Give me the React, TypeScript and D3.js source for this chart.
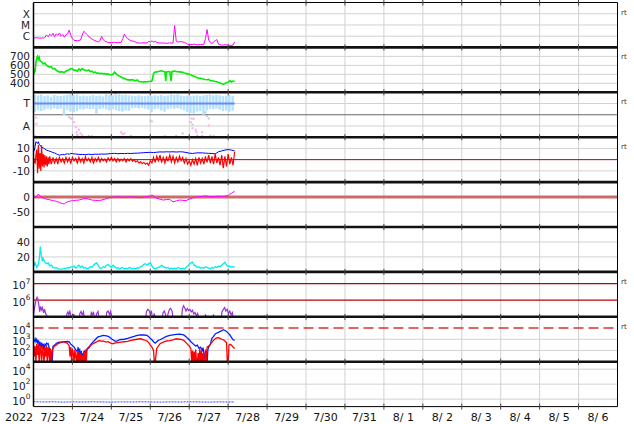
import React from "react";
import * as d3 from "d3";

// hours since 2022-07-23 00:00 UT
const T0 = Date.UTC(2022, 6, 23);
const T1 = Date.UTC(2022, 7, 7);
const HOUR = 3600 * 1000;

const dayLabels = ["7/23", "7/24", "7/25", "7/26", "7/27", "7/28", "7/29", "7/30", "7/31", "8/ 1", "8/ 2", "8/ 3", "8/ 4", "8/ 5", "8/ 6"];

// X-ray flux (W/m2)
const xray: [number, number][] = [[0,6.8e-7],[2,7.2e-7],[4,6.6e-7],[6,6.9e-7],[7,7.5e-7],[8,1.3e-6],[9,9e-7],[10,1.5e-6],[11,1.1e-6],[12,1.8e-6],[13,9e-7],[14,1.6e-6],[15,1.2e-6],[16,1.9e-6],[17,1.0e-6],[18,1.4e-6],[19,8e-7],[20,1.3e-6],[21,1.6e-6],[22,3.5e-6],[23,1.2e-6],[24,6e-7],[25,4.2e-7],[27,4.0e-7],[29,4.5e-7],[30,1.2e-6],[31,2.7e-6],[32,2.0e-6],[33,1.4e-6],[35,7e-7],[37,4.6e-7],[40,3.0e-7],[41,4e-7],[42,9.5e-7],[43,5e-7],[44,3.5e-7],[46,2.8e-7],[48,2.6e-7],[50,2.9e-7],[52,2.6e-7],[54,2.8e-7],[55,6e-7],[56,1.5e-6],[57,9e-7],[58,6e-7],[60,4e-7],[62,3.4e-7],[64,2.5e-7],[66,2.4e-7],[68,2.6e-7],[70,2.5e-7],[71,3.5e-7],[72,3.0e-7],[73,3.8e-7],[74,3.1e-7],[75,3.6e-7],[76,2.8e-7],[78,2.4e-7],[80,2.5e-7],[82,2.3e-7],[84,2.5e-7],[86,2.4e-7],[87,8.9e-6],[88,3.5e-7],[89,3.0e-7],[91,3.3e-7],[93,2.8e-7],[95,1.9e-7],[97,1.8e-7],[99,1.9e-7],[101,1.7e-7],[103,1.8e-7],[105,1.9e-7],[106,6e-7],[107,3.9e-6],[108,4.5e-7],[109,2.8e-7],[110,2.2e-7],[112,4e-7],[113,5e-7],[114,2.0e-7],[116,1.6e-7],[118,1.7e-7],[120,1.6e-7],[122,1.5e-7],[123,1.6e-7],[124,3.2e-7]];

// solar wind speed (km/s)
const speed: [number, number][] = [[0,560],[0.5,520],[1,540],[1.5,630],[2,680],[2.5,700],[3,670],[3.5,690],[4,650],[5,640],[6,615],[7,625],[8,600],[9,590],[10,580],[11,585],[12,560],[13,565],[14,545],[15,535],[16,525],[17,530],[18,527],[19,522],[20,535],[21,545],[22,552],[23,565],[24,560],[25,545],[26,548],[27,535],[28,560],[29,545],[30,565],[31,550],[32,545],[33,540],[34,548],[35,530],[36,535],[37,520],[38,525],[39,512],[40,515],[41,508],[42,512],[43,505],[44,508],[45,500],[46,505],[47,496],[48,493],[49,500],[50,525],[51,505],[52,488],[53,480],[54,470],[55,458],[56,455],[57,445],[58,438],[59,440],[60,436],[61,442],[62,432],[63,430],[64,438],[65,420],[66,418],[67,415],[68,418],[69,416],[70,418],[71,420],[72,422],[73,425],[74,505],[74.5,520],[75,525],[76,527],[77,532],[78,538],[79,540],[80,532],[81,528],[81.5,425],[82,525],[83,530],[84,528],[84.8,425],[85.3,530],[86,533],[87,536],[88,530],[89,528],[90,527],[91,525],[92,522],[93,515],[94,510],[95,505],[96,500],[97,495],[98,485],[99,480],[100,470],[101,462],[102,458],[103,455],[104,450],[105,446],[106,442],[107,440],[108,445],[109,430],[110,428],[111,425],[112,420],[113,418],[114,410],[115,405],[116,395],[117,390],[118,398],[119,410],[120,412],[121,430],[122,415],[123,425],[124,420]];

// IMF phi angle: [hour, max deg, min deg]
const phiBand: [number, number, number][] = [[0,340,205],[2,335,215],[4,342,210],[6,330,220],[8,336,228],[10,325,222],[12,338,232],[14,332,225],[16,330,230],[18,335,178],[20,340,220],[22,345,205],[24,338,200],[26,342,210],[28,330,225],[30,335,222],[32,328,230],[34,332,226],[36,338,228],[38,330,190],[40,335,225],[42,326,230],[44,345,222],[46,340,215],[48,336,225],[50,342,218],[52,344,210],[54,338,205],[56,340,215],[58,336,212],[60,334,232],[62,330,236],[64,336,230],[66,332,234],[68,330,228],[70,334,222],[72,330,200],[74,336,225],[76,332,230],[78,338,215],[80,330,205],[82,334,225],[84,342,230],[86,338,228],[88,344,232],[90,336,225],[92,330,215],[94,334,200],[96,328,195],[98,332,190],[100,336,205],[102,330,210],[104,334,180],[106,338,215],[108,342,228],[110,336,225],[112,340,230],[114,336,222],[116,330,210],[118,334,215],[120,338,205],[122,330,212]];
const phiGray: [number, number][] = [[1,10],[22,160],[23,150],[24,355],[25,358],[27,12],[34,10],[36,8],[50,352],[51,356],[60,10],[72,134],[81,8],[88,10],[92,30],[97,120],[98,100],[101,12],[104,10],[106,200],[107,170],[108,150],[109,12],[111,8]];
const phiPink: [number, number][] = [[1.7,157],[1.8,108],[24,150],[25,120],[26,80],[26.5,40],[27,20],[28,60],[29,30],[30,15],[54,40],[55,25],[56,30],[73,126],[97.5,150],[98.7,148],[98,72],[100,60],[100.5,40],[104,40],[108,94]];
const sector: [number, number][] = [[0, 270], [124, 270]];

// IMF Bt and Bz (nT)
const bt: [number, number][] = [[0,7],[0.5,8],[1,12],[1.5,16],[2,15],[2.5,14.5],[3,16],[3.5,13.5],[4,13],[5,11],[6,10.5],[7,9.5],[8,8.5],[9,8],[10,7.5],[11,7],[12,6.3],[13,6],[14,5.2],[15,4.5],[16,4],[17,4.3],[18,4.6],[19,4.4],[20,5],[21,5.2],[22,4.8],[23,5.5],[24,5.4],[26,5],[28,4.7],[30,4.6],[32,4.5],[34,4.8],[36,4.6],[38,4.9],[40,4.8],[42,5],[44,4.9],[46,5.2],[48,5.4],[50,5.6],[52,5.3],[54,5.5],[56,5.4],[58,5.6],[60,5.5],[62,5.7],[64,5.8],[66,6],[68,6.2],[70,6.4],[72,6.5],[74,6.3],[76,6.6],[78,6.9],[80,6.8],[82,7],[84,6.9],[86,7],[88,6.8],[90,7],[92,6.9],[94,6.4],[96,5.8],[98,5.5],[100,5.9],[102,6.1],[104,6],[106,5.8],[108,5.6],[110,5.5],[112,5.2],[113,6],[114,7],[116,7.8],[118,8.5],[120,9],[122,8.5],[124,7.8]];
const bz: [number, number][] = [[0,2],[0.5,-2],[1,-3],[1.5,4],[2,9],[2.5,-12],[3,13],[3.5,-8],[4,6],[4.5,-10],[5,12.9],[5.5,-6],[6,5],[6.5,-7],[7,4],[7.5,-5],[8,3],[8.5,-6],[9,2],[9.5,-4],[10,3],[10.5,-1],[11,-4],[12,2],[12.5,-1],[13,-3],[14,1],[15,-4],[15.5,0],[16,2],[17,-2],[18,1],[18.5,-1],[19,-3],[20,2],[21,-2],[22,1.5],[22.5,-1],[23,-3],[24,2],[25,-1],[26,1],[27,-3],[27.5,-1],[28,2],[29,-2],[30,1],[31,-3],[32,2.5],[32.5,0],[33,-1],[34,1],[35,-2],[36,2],[36.5,-1],[37,-3],[38,1],[39,-1.5],[40,2],[41,-2],[42,1],[43,-1],[44,0.5],[45,-2],[46,1.5],[47,-1],[48,2],[49,-1],[50,1],[51,-2],[52,1],[53,-1.5],[54,0.5],[55,-1],[56,1],[57,-2],[58,0.5],[59,-1],[60,1],[61,-1.5],[62,0],[63,-2],[64,-1],[65,-3],[66,-2],[67,-3.5],[68,-2.5],[69,-4],[70,-3],[71,-4.9],[72,-1],[73,-3],[74,2],[74.5,-1],[75,-2],[76,3],[77,-1],[78,4],[78.5,0],[79,-2],[80,2],[81,-3],[82,3],[82.5,-1],[83,-1],[84,4],[85,-2],[86,3],[86.5,0],[87,-3],[88,2],[89,-2],[90,3],[91,-1],[92,2],[92.5,-1],[93,-3],[94,1],[95,-4],[96,-1],[97,-5],[98,0],[99,-4],[100,1],[101,-5],[102,2],[103,-3],[104,1],[105,-4],[106,3],[106.5,-1],[107,-2],[108,4],[109,-3],[110,3],[110.5,-1],[111,-4],[112,5],[113,-3],[114,2],[115,-5],[116,4],[116.5,-2],[117,-7.5],[118,3],[119,-6],[120,5],[121,-4],[122,2],[123,-5],[124,7]];

// Dst (nT)
const dst: [number, number][] = [[0,1],[1,0],[2,2],[3,10],[4,4],[5,-1],[6,-3],[7,-5],[8,-7],[10,-9],[12,-12],[14,-14],[16,-18],[18,-22],[19,-23],[20,-18],[21,-16],[22,-14],[24,-12],[26,-11],[28,-10],[30,-7],[32,-4],[34,-7],[36,-10],[38,-11],[40,-12],[42,-10],[44,-7],[46,-3],[48,-1],[50,0],[52,1],[54,0],[56,-1],[58,0],[60,1],[62,0],[64,-1],[66,-2],[68,0],[70,1],[72,4],[73,7],[74,4],[76,-4],[78,-7],[80,-10],[82,-8],[84,-8],[86,-16],[88,-13],[90,-10],[92,-11],[94,-12],[96,-7],[98,-3],[100,0],[102,1],[104,2],[106,4],[108,2],[110,1],[112,2],[114,3],[116,2],[118,3],[120,5],[121,10],[122,12],[123,17],[124,18]];

// density
const dens: [number, number][] = [[0,14],[0.5,8],[1,12],[2,6],[3,10],[3.7,20],[4.2,34],[4.6,26],[5,20],[5.5,14],[6,18],[7,13],[8,11],[9,12],[10,8],[11,9],[12,6],[13,5],[14,6],[15,4],[16,4],[17,3.5],[18,4],[19,5],[20,4.5],[21,6],[22,5],[23,7],[24,6],[25,8],[26,5],[27,7],[28,9],[29,6],[30,8],[31,5],[32,6],[33,4],[34,5],[35,7],[36,6],[37,9],[38,11],[39,12],[40,8],[41,5],[42,5],[43,7],[44,6],[45,9],[46,10],[47,8],[48,6],[49,9],[50,7],[51,5],[52,6],[53,4],[54,5],[55,6],[56,4],[57,5],[58,4],[59,6],[60,5],[61,4],[62,5],[63,4],[64,6],[65,5],[66,7],[67,8],[68,10],[69,11],[70,9],[71,11],[72,12],[73,8],[74,5],[75,4],[76,5],[77,6],[78,7],[79,9],[80,7],[81,6],[82,5],[83,6],[84,4],[85,5],[86,4],[87,5],[88,4],[89,6],[90,5],[91,4],[92,5],[93,4],[94,6],[95,8],[96,10],[97,12],[98,13],[99,9],[100,8],[101,6],[102,7],[103,5],[104,6],[105,5],[106,7],[107,6],[108,5],[109,4],[110,6],[111,5],[112,7],[113,6],[114,8],[115,7],[116,9],[117,11],[118,13],[119,9],[120,7],[121,8],[122,6],[123,7],[124,6]];

// >2 MeV electron fluence
const elec: [number, number][] = [[0,1.3e5],[0.6,3.3e5],[1.5,1.0e6],[2.2,1.5e6],[2.7,1.2e6],[3.3,5e5],[3.8,2e5],[4.3,4.2e5],[4.9,2.6e5],[5.5,3.6e5],[6.2,1.7e5],[6.8,2.9e5],[7.5,1.5e5],[8.2,1.2e5],[8.8,6e4],[20,6e4],[20.6,1.5e5],[21.2,2e5],[21.8,1.3e5],[22.4,2.1e5],[23,1.2e5],[23.8,6e4],[24.8,1.5e5],[25.5,6e4],[28,6e4],[28.6,1.6e5],[29.3,2.1e5],[30,1.3e5],[30.8,2e5],[31.5,6e4],[35,6e4],[35.6,1.8e5],[36.3,1.3e5],[37,2e5],[37.8,6e4],[39,1.6e5],[39.8,2.1e5],[40.5,6e4],[44.5,6e4],[45.2,1.9e5],[46,2.2e5],[46.8,1.4e5],[47.5,2.1e5],[48.3,6e4],[69,6e4],[69.6,2e5],[70.4,2.8e5],[71.2,2.5e5],[72,1.5e5],[72.7,2.3e5],[73.4,6e4],[74.4,1.6e5],[75,6e4],[79.2,6e4],[79.8,1.7e5],[80.6,2.2e5],[81.4,1.4e5],[82,6e4],[83,1.6e5],[83.8,2.8e5],[84.6,3.2e5],[85.4,2.2e5],[86.2,6e4],[91.2,6e4],[91.8,3e5],[92.5,4.6e5],[93.2,3.5e5],[94,2.2e5],[94.8,3.2e5],[95.6,2.4e5],[96.4,2.8e5],[97.2,2e5],[98,2.5e5],[98.8,1.5e5],[99.6,1.8e5],[100.4,1.2e5],[101.2,1.6e5],[102,6e4],[105.5,6e4],[106,1.4e5],[106.5,6e4],[110.5,6e4],[111,1.4e5],[111.5,6e4],[115.5,6e4],[116.2,2e5],[117,2.8e5],[117.8,3.6e5],[118.6,2.2e5],[119.4,2.8e5],[120.2,1.5e5],[121,2.2e5],[121.8,1.3e5],[122.6,1.8e5],[123.3,6e4]];

// GEO electron flux, two channels
const geoBlue: [number, number][] = [[0,900],[0.5,700],[1,1100],[1.5,600],[2,950],[2.5,500],[3,800],[3.5,250],[4,600],[4.5,120],[5,500],[5.5,200],[6,400],[6.5,90],[7,350],[7.5,300],[8,450],[8.5,380],[9,420],[9.5,200],[10,120],[10.5,8],[11,40],[11.5,8],[12,230],[13,300],[14,420],[15,500],[16,550],[17,520],[18,560],[19,600],[20,600],[21,630],[22,600],[23,350],[24,280],[25,200],[26,120],[27,80],[27.5,200],[28,20],[28.5,150],[29,8],[29.5,90],[30,8],[30.5,60],[31,8],[31.5,100],[32,50],[33,130],[34,160],[35,300],[36,450],[37,630],[38,900],[39,1300],[40,1700],[41,1800],[42,2000],[43,2200],[44,2100],[45,2000],[46,1800],[47,1500],[48,1100],[49,900],[50,700],[51,650],[52,750],[53,900],[54,950],[56,1000],[58,1200],[60,1500],[62,1800],[64,2200],[66,2500],[68,2400],[70,2200],[71,1700],[72,1200],[73,900],[74,600],[75,450],[76,600],[77,800],[78,900],[80,1300],[82,1800],[84,2200],[86,2500],[88,2700],[90,2900],[92,2600],[93,2200],[94,1700],[95,1200],[96,900],[97,600],[98,450],[99,320],[100,250],[101,300],[102,160],[103,200],[104,100],[104.5,180],[105,60],[105.5,8],[106,70],[106.5,40],[107,8],[107.5,120],[108,200],[109,350],[110,1200],[111,1800],[112,3000],[113,3600],[114,4000],[115,5000],[116,5500],[117,7000],[118,6000],[119,5000],[120,3500],[121,2500],[122,1500],[123,900],[124,800]];
const geoRed: [number, number][] = [[0,300],[0.5,30],[1,250],[1.5,8],[2,400],[2.5,40],[3,350],[3.5,8],[4,300],[4.5,100],[5,8],[5.5,250],[6,60],[6.5,8],[7,200],[7.5,30],[8,300],[8.5,8],[9,200],[9.5,50],[10,8],[10.5,150],[11,8],[11.5,100],[12,150],[13,250],[14,300],[15,400],[16,450],[17,550],[18,600],[19,550],[20,500],[21,420],[22,250],[22.5,30],[23,200],[23.5,8],[24,150],[24.5,60],[25,8],[25.5,120],[26,30],[26.5,8],[27,100],[27.5,8],[28,80],[28.5,8],[29,60],[29.5,8],[30,40],[30.5,8],[31,90],[31.5,8],[32,120],[32.5,8],[33,140],[34,200],[35,250],[36,350],[37,420],[38,500],[39,600],[40,700],[41,750],[42,650],[43,700],[44,600],[45,550],[46,600],[47,500],[48,420],[49,400],[50,450],[52,500],[54,550],[56,600],[58,650],[60,800],[62,900],[64,1000],[66,1100],[68,900],[70,700],[71,500],[72,300],[73,200],[74,100],[74.5,8],[75,8],[75.5,40],[76,150],[77,250],[78,400],[80,550],[82,700],[84,750],[86,900],[88,1100],[90,1000],[92,900],[93,700],[94,500],[95,350],[96,250],[97,150],[97.5,8],[98,100],[98.5,8],[99,80],[99.5,8],[100,120],[100.5,8],[101,8],[101.5,60],[102,8],[102.5,150],[103,8],[103.5,100],[104,8],[104.5,60],[105,8],[105.5,8],[106,120],[106.5,8],[107,200],[108,250],[109,350],[110,550],[111,800],[112,1100],[113,1300],[114,1400],[115,1200],[116,1000],[117,900],[118,700],[119,500],[119.5,8],[120,8],[120.5,300],[121,350],[122,300],[123,200],[124,150]];

// bottom channel
const low: [number, number][] = [[0,0.45],[6,0.42],[12,0.44],[18,0.4],[24,0.43],[30,0.41],[36,0.44],[42,0.42],[48,0.4],[54,0.43],[60,0.41],[66,0.44],[72,0.42],[78,0.4],[84,0.43],[90,0.41],[96,0.44],[102,0.42],[108,0.4],[114,0.43],[120,0.41],[124,0.42]];

const W = 634, H = 424;
const LEFT = 33.5, RIGHT = 617.5, TOP = 2.5, PH = 44.9;
const FONT = "DejaVu Sans, Verdana, sans-serif";

const x = d3.scaleUtc().domain([new Date(T0), new Date(T1)]).range([LEFT, RIGHT]);
const tx = (h: number) => x(new Date(T0 + h * HOUR));
const pTop = (i: number) => TOP + i * PH;

const lin = (i: number, dom: [number, number]) => d3.scaleLinear().domain(dom).range([pTop(i + 1), pTop(i)]);
const lg = (i: number, dom: [number, number]) => d3.scaleLog().domain(dom).range([pTop(i + 1), pTop(i)]);

type Tick = { v: number; text: string; exp?: string };
type Ref = { v: number; color: string; width: number; dash?: string };
type Panel = { y: any; ticks: Tick[]; grid: number[]; refs?: Ref[]; rt?: boolean };

const panels: Panel[] = [
  { y: lg(0, [1e-7, 1e-3]), ticks: [{ v: 1e-4, text: "X" }, { v: 1e-5, text: "M" }, { v: 1e-6, text: "C" }], grid: [1e-6, 1e-5, 1e-4], rt: true },
  { y: lin(1, [300, 800]), ticks: [700, 600, 500, 400].map((v) => ({ v, text: String(v) })), grid: [400, 500, 600, 700], rt: true },
  { y: lin(2, [0, 360]), ticks: [{ v: 270, text: "T" }, { v: 90, text: "A" }], grid: [90, 270], refs: [{ v: 180, color: "#666", width: 1 }], rt: true },
  { y: lin(3, [-20, 20]), ticks: [{ v: 10, text: "10" }, { v: 0, text: "0" }, { v: -10, text: "-10" }], grid: [10, -10], refs: [{ v: 0, color: "#b00000", width: 1 }], rt: true },
  { y: lin(4, [-100, 50]), ticks: [{ v: 0, text: "0" }, { v: -50, text: "-50" }], grid: [-50], refs: [{ v: 0, color: "#cc6a6a", width: 3 }] },
  { y: lin(5, [0, 60]), ticks: [{ v: 40, text: "40" }, { v: 20, text: "20" }], grid: [20, 40] },
  { y: lg(6, [1e5, 5e7]), ticks: [{ v: 1e7, text: "10", exp: "7" }, { v: 1e6, text: "10", exp: "6" }], grid: [], refs: [{ v: 1e7, color: "#c00000", width: 1.3 }, { v: 1e6, color: "#c00000", width: 1.3 }], rt: true },
  { y: lg(7, [1e1, 1e5]), ticks: [{ v: 1e4, text: "10", exp: "4" }, { v: 1e3, text: "10", exp: "3" }, { v: 1e2, text: "10", exp: "2" }], grid: [1e2, 1e3], refs: [{ v: 1e4, color: "#dd3030", width: 1.5, dash: "10,5" }], rt: true },
  { y: lg(8, [1e-1, 1e5]), ticks: [{ v: 1e4, text: "10", exp: "4" }, { v: 1e2, text: "10", exp: "2" }, { v: 1, text: "10", exp: "0" }], grid: [1, 1e2, 1e4] },
];

function path(y: any, data: [number, number][]) {
  return d3.line<[number, number]>().x((d) => tx(d[0])).y((d) => y(d[1]))(data) || "";
}

export default function App() {
  const days = d3.utcDay.range(new Date(T0), new Date(T1));
  const dayLines = days.slice(1);
  const p = panels;
  const step = tx(2) - tx(0);

  return (
    <svg width={W} height={H} style={{ position: "absolute", left: 0, top: 0, background: "#fff" }} fontFamily={FONT}>
      <defs>
        {p.map((_, i) => (
          <clipPath id={`c${i}`} key={i}>
            <rect x={LEFT} y={pTop(i)} width={RIGHT - LEFT} height={PH} />
          </clipPath>
        ))}
      </defs>

      {/* vertical day grid */}
      {dayLines.map((d, i) => (
        <line key={i} x1={x(d)} x2={x(d)} y1={TOP} y2={pTop(9)} stroke="#d2d2d2" strokeWidth={1} />
      ))}

      {/* horizontal grids, refs, tick labels */}
      {p.map((pn, i) => (
        <g key={i}>
          {pn.grid.map((v, j) => (
            <line key={j} x1={LEFT} x2={RIGHT} y1={pn.y(v)} y2={pn.y(v)} stroke="#d2d2d2" strokeWidth={1} />
          ))}
          {(pn.refs || []).map((r, j) => (
            <line key={j} x1={LEFT} x2={RIGHT} y1={pn.y(r.v)} y2={pn.y(r.v)} stroke={r.color} strokeWidth={r.width} strokeDasharray={r.dash} />
          ))}
          {pn.ticks.map((t, j) =>
            t.exp ? (
              <text key={j} x={30.5} y={pn.y(t.v) + 5.5} textAnchor="end" fontSize={10.5} fill="#222">
                {t.text}
                <tspan dy={-5.5} fontSize={7.5}>{t.exp}</tspan>
              </text>
            ) : (
              <text key={j} x={30} y={pn.y(t.v) + 3.8} textAnchor="end" fontSize={10.5} fill="#222">
                {t.text}
              </text>
            )
          )}
          {pn.rt && (
            <text x={621} y={pTop(i) + 12} fontSize={7} fill="#333">rt</text>
          )}
        </g>
      ))}

      {/* panel 1: X-ray */}
      <g clipPath="url(#c0)">
        <path d={path(p[0].y, xray)} fill="none" stroke="#ff00ff" strokeWidth={1} />
      </g>
      {/* panel 2: speed */}
      <g clipPath="url(#c1)">
        <path d={path(p[1].y, speed)} fill="none" stroke="#00ee00" strokeWidth={1.6} />
      </g>
      {/* panel 3: phi */}
      <g clipPath="url(#c2)">
        {phiBand.map((d, i) => (
          <rect key={i} x={tx(d[0])} y={p[2].y(d[1])} width={step - 0.7} height={p[2].y(d[2]) - p[2].y(d[1])} fill="#b4e2ff" />
        ))}
        {phiGray.map((d, i) => (
          <rect key={i} x={tx(d[0]) - 1} y={p[2].y(d[1]) - 1} width={2} height={2} fill="#c8c8c8" />
        ))}
        {phiPink.map((d, i) => (
          <rect key={i} x={tx(d[0]) - 1} y={p[2].y(d[1]) - 1} width={2} height={2} fill="#ffaaee" />
        ))}
        <path d={path(p[2].y, sector)} fill="none" stroke="#7088f0" strokeWidth={2} />
      </g>
      {/* panel 4: IMF */}
      <g clipPath="url(#c3)">
        <path d={path(p[3].y, bt)} fill="none" stroke="#0000ff" strokeWidth={1} />
        <path d={path(p[3].y, bz)} fill="none" stroke="#ff0000" strokeWidth={1.2} />
      </g>
      {/* panel 5: Dst */}
      <g clipPath="url(#c4)">
        <path d={path(p[4].y, dst)} fill="none" stroke="#ff00ff" strokeWidth={1} />
      </g>
      {/* panel 6 */}
      <g clipPath="url(#c5)">
        <path d={path(p[5].y, dens)} fill="none" stroke="#00eeee" strokeWidth={1.3} />
      </g>
      {/* panel 7 */}
      <g clipPath="url(#c6)">
        <path d={path(p[6].y, elec)} fill="none" stroke="#9933cc" strokeWidth={1.2} />
      </g>
      {/* panel 8 */}
      <g clipPath="url(#c7)">
        <path d={path(p[7].y, geoBlue)} fill="none" stroke="#0022ff" strokeWidth={1.3} />
        <path d={path(p[7].y, geoRed)} fill="none" stroke="#ff0000" strokeWidth={1.3} />
      </g>
      {/* panel 9 */}
      <g clipPath="url(#c8)">
        <path d={path(p[8].y, low)} fill="none" stroke="#3344ff" strokeWidth={1} strokeDasharray="2,1" />
      </g>

      {/* frame */}
      <line x1={LEFT} x2={RIGHT} y1={TOP} y2={TOP} stroke="#000" strokeWidth={1} />
      <line x1={LEFT} x2={RIGHT} y1={pTop(9)} y2={pTop(9)} stroke="#000" strokeWidth={1} />
      {d3.range(1, 9).map((i) => (
        <line key={i} x1={LEFT} x2={RIGHT} y1={pTop(i)} y2={pTop(i)} stroke="#111" strokeWidth={2.6} />
      ))}
      {d3.range(0, 10).map((i) =>
        dayLines.map((d, j) => (
          <line key={`${i}-${j}`} x1={x(d)} x2={x(d)} y1={pTop(i) - 3} y2={pTop(i) + 3} stroke="#444" strokeWidth={1} />
        ))
      )}
      <line x1={LEFT} x2={LEFT} y1={TOP} y2={pTop(9)} stroke="#000" strokeWidth={1.5} />
      <line x1={RIGHT} x2={RIGHT} y1={TOP} y2={pTop(9)} stroke="#000" strokeWidth={1} />

      {/* time labels */}
      <text x={19} y={421} textAnchor="middle" fontSize={11} fill="#111">2022</text>
      {days.map((d, i) => (
        <text key={i} x={x(d3.utcHour.offset(d, 12))} y={421} textAnchor="middle" fontSize={11} fill="#111" style={{ whiteSpace: "pre" }}>
          {dayLabels[i]}
        </text>
      ))}
    </svg>
  );
}
